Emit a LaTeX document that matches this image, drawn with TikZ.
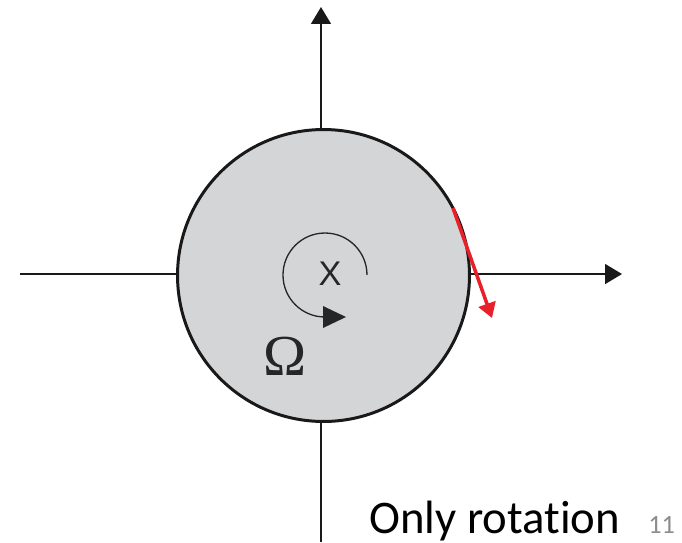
\documentclass[tikz,border=0pt]{standalone}
\usepackage{fontspec}
\setmainfont[Ligatures=NoCommon]{Carlito}
\newfontfamily\arialf{Liberation Sans}
\newfontfamily\timesf{Liberation Serif}
\usetikzlibrary{arrows.meta}
\definecolor{diskgray}{HTML}{D4D5D7}
\definecolor{arrowred}{HTML}{E8202A}
\definecolor{numgray}{HTML}{8C8C8C}
\definecolor{arcgray}{HTML}{262626}
\begin{document}
\begin{tikzpicture}[x=0.02cm,y=-0.02cm,
  axisline/.style={line width=0.85pt, draw=black!90, -{Triangle[length=9.6pt,width=11.3pt]}},
  diskstyle/.style={circle, draw=black!90, line width=1.7pt, fill=diskgray, minimum size=5.84cm, inner sep=0pt},
  rotarc/.style={line width=0.75pt, draw=arcgray},
  velarrow/.style={line width=2pt, draw=arrowred, -{Triangle[length=8.5pt,width=10pt]}},
  lbl/.style={inner sep=0pt, anchor=base west}]
\useasboundingbox (0,0) rectangle (682,542);
% axes
\coordinate (L) at (20,274);
\coordinate (R) at (622,274);
\coordinate (B) at (321,542);
\coordinate (T) at (321,7);
\draw[axisline] (L) -- (R);
\draw[axisline] (B) -- (T);
% disk
\node[diskstyle] (disk) at (323.5,275.5) {};
% rotation arc
\coordinate (arcc) at (325,275);
\draw[rotarc] ([xshift=0.84cm]arcc) arc[start angle=0, end angle=-270, radius=42];
\fill[arcgray] (323,306) -- (346,317) -- (323,328) -- cycle;
\node[inner sep=0pt, text=arcgray] (xlbl) at (330,274) {\arialf\fontsize{19.5}{20}\selectfont X};
\node[inner sep=0pt, text=black!85] (omega) at (285,356) {\timesf\fontsize{33}{33}\selectfont Ω};
% velocity arrow
\coordinate (vs) at (453,208);
\coordinate (ve) at (492,318);
\draw[velarrow] (vs) -- (ve);
% caption
\node[lbl] (cap) at (369,533) {\fontsize{26.6}{27}\selectfont Only rotation};
\node[lbl, text=numgray] (num) at (648,533) {\fontsize{15}{15}\selectfont 11};
\end{tikzpicture}
\end{document}
